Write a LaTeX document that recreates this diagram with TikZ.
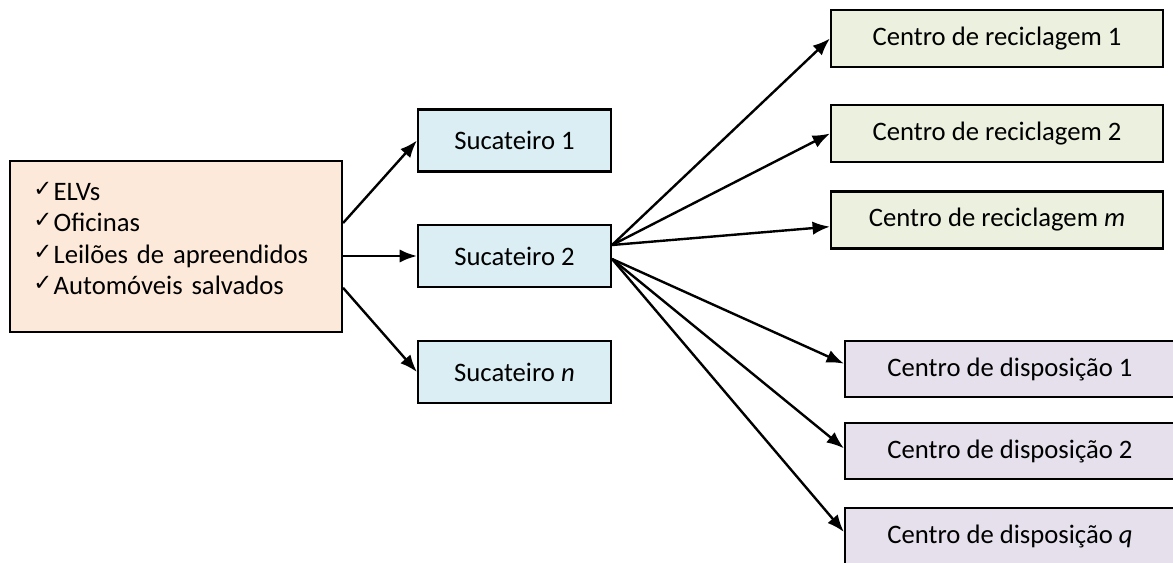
\documentclass[tikz,border=0pt]{standalone}
\usepackage{fontspec}
\setmainfont{Carlito}
\newfontfamily\checkfont{DejaVu Sans}
\usetikzlibrary{arrows.meta}

\definecolor{srcfill}{RGB}{253,233,217}
\definecolor{sucfill}{RGB}{218,238,243}
\definecolor{recfill}{RGB}{235,241,222}
\definecolor{dispfill}{RGB}{229,224,236}

% raised tick in front of each source
\newcommand{\tick}{\raisebox{3pt}{\checkfont\fontsize{17}{17}\selectfont ✓}\hspace{1pt}}

\tikzset{
  caixa/.style={draw=black, line width=1.6pt, inner sep=0pt, font=\fontsize{20}{23.5}\selectfont},
  seta/.style={line width=1.8pt, -{Latex[length=13pt,width=10pt]}},
}

\begin{document}
\begin{tikzpicture}[x=0.75pt,y=0.75pt,yscale=-1,xscale=1]
\useasboundingbox (0,0) rectangle (1173,563);
\clip (0,0) rectangle (1173,563);

% Sources (the last rule only lifts the block a little)
\node [caixa, fill=srcfill, minimum width=249pt, minimum height=128pt, text width=214pt, align=left] (src) at (176,246.5)
  {\tick ELVs\\ \tick Oficinas\\ \tick Leilões de apreendidos\\ \tick Automóveis salvados\rule[-12pt]{0pt}{0pt}};

% Scrap dealers
\node [caixa, fill=sucfill, minimum width=144.75pt, minimum height=46.5pt] (suc1) at (514.5,140.5) {Sucateiro 1};
\node [caixa, fill=sucfill, minimum width=144.75pt, minimum height=46.5pt] (suc2) at (514.5,256) {Sucateiro 2};
\node [caixa, fill=sucfill, minimum width=144.75pt, minimum height=46.5pt] (sucn) at (514.5,372) {Sucateiro \textit{n}};

% Recycling centres
\node [caixa, fill=recfill, minimum width=249pt, minimum height=42.75pt] (rec1) at (997,38.5) {Centro de reciclagem 1};
\node [caixa, fill=recfill, minimum width=249pt, minimum height=42.75pt] (rec2) at (997,133.5) {Centro de reciclagem 2};
\node [caixa, fill=recfill, minimum width=249pt, minimum height=42.75pt] (recm) at (997,220) {Centro de reciclagem \textit{m}};

% Disposal centres
\node [caixa, fill=dispfill, minimum width=247.5pt, minimum height=42pt] (disp1) at (1010,369) {Centro de disposição 1};
\node [caixa, fill=dispfill, minimum width=247.5pt, minimum height=42pt] (disp2) at (1010,451) {Centro de disposição 2};
\node [caixa, fill=dispfill, minimum width=247.5pt, minimum height=42pt] (dispq) at (1010,536) {Centro de disposição \textit{q}};

% Arrows out of the sources
\draw [seta] ([yshift=-17.6pt]src.east) -- (suc1.west);
\draw [seta] (src.east |- suc2.west) -- (suc2.west);
\draw [seta] ([yshift=31pt]src.east) -- (sucn.west);

% Arrows out of Sucateiro 2
\coordinate (up) at ([yshift=-8.25pt]suc2.east);
\coordinate (dn) at ([yshift=2.25pt]suc2.east);
\draw [seta] (up) -- (rec1.west);
\draw [seta] (up) -- (rec2.west);
\draw [seta] (up) -- ([yshift=5pt]recm.west);
\draw [seta] (dn) -- ([yshift=-4pt]disp1.west);
\draw [seta] (dn) -- ([yshift=-2pt]disp2.west);
\draw [seta] (dn) -- ([yshift=-3pt]dispq.west);
\end{tikzpicture}
\end{document}
